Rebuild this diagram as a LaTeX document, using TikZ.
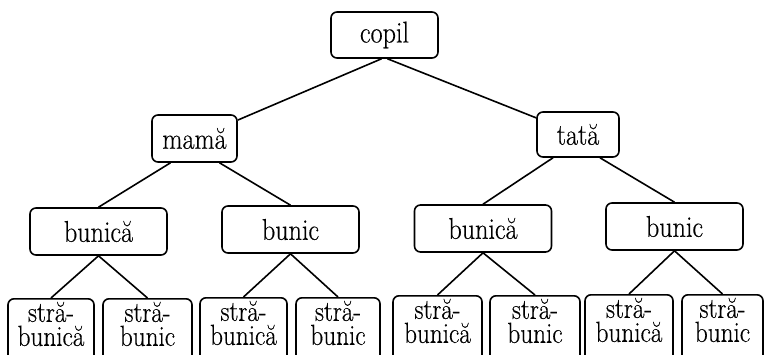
\documentclass[tikz,border=0pt]{standalone}
\usepackage{fontspec}
\setmainfont{Latin Modern Roman}[FakeStretch=0.87,FakeBold=0.4]
\begin{document}
\begin{tikzpicture}[x=1pt,y=-1pt,
  box/.style={draw, line width=1.6pt, rounded corners=6pt, inner sep=0pt,
    font=\fontsize{30}{24}\selectfont, minimum height=47pt},
  leaf/.style={draw, line width=1.6pt, rounded corners=6pt, inner xsep=0pt,
    inner ysep=3pt, align=center, font=\fontsize{29}{24}\selectfont, anchor=north},
  edge/.style={line width=1.6pt}]
\path[use as bounding box, clip] (0,0) rectangle (767,355);
\fill[white] (0,0) rectangle (767,355);
% top levels
\node[box, minimum width=107pt, minimum height=46pt] (copil) at (384.5,35) {copil};
\node[box, minimum width=85pt] (mama) at (194.5,138.5) {mamă};
\node[box, minimum width=82pt, minimum height=45pt] (tata) at (578,134.5) {tată};
% grandparents
\node[box, minimum width=137pt] (bunica1) at (98.5,231.5) {bunică};
\node[box, minimum width=137pt] (bunic1) at (290.5,229.5) {bunic};
\node[box, minimum width=137pt] (bunica2) at (483,228.5) {bunică};
\node[box, minimum width=137pt] (bunic2) at (674.5,226.5) {bunic};
% great-grandparents
\node[leaf, minimum width=86pt] (sb1) at (51,298) {stră-\\bunică\rule[-20pt]{0pt}{1pt}};
\node[leaf, minimum width=89pt] (sb2) at (147.5,298) {stră-\\bunic\rule[-20pt]{0pt}{1pt}};
\node[leaf, minimum width=87pt] (sb3) at (243.5,297) {stră-\\bunică\rule[-20pt]{0pt}{1pt}};
\node[leaf, minimum width=84pt] (sb4) at (338,297) {stră-\\bunic\rule[-20pt]{0pt}{1pt}};
\node[leaf, minimum width=89pt] (sb5) at (437.5,295) {stră-\\bunică\rule[-20pt]{0pt}{1pt}};
\node[leaf, minimum width=90pt] (sb6) at (535,295) {stră-\\bunic\rule[-20pt]{0pt}{1pt}};
\node[leaf, minimum width=88pt] (sb7) at (629,294) {stră-\\bunică\rule[-20pt]{0pt}{1pt}};
\node[leaf, minimum width=81pt] (sb8) at (722.5,294) {stră-\\bunic\rule[-20pt]{0pt}{1pt}};
% connectors
\draw[edge] ([xshift=-3pt]copil.south) -- (mama);
\draw[edge] ([xshift=3pt]copil.south) -- (tata);
\draw[edge] ([xshift=-24pt]mama.south) -- (bunica1.north);
\draw[edge] ([xshift=25pt]mama.south) -- (bunic1.north);
\draw[edge] ([xshift=-25pt]tata.south) -- (bunica2.north);
\draw[edge] ([xshift=22pt]tata.south) -- (bunic2.north);
\draw[edge] (bunica1.south) -- (sb1.north);
\draw[edge] (bunica1.south) -- (sb2.north);
\draw[edge] (bunic1.south) -- (sb3.north);
\draw[edge] (bunic1.south) -- (sb4.north);
\draw[edge] (bunica2.south) -- (sb5.north);
\draw[edge] (bunica2.south) -- (sb6.north);
\draw[edge] (bunic2.south) -- (sb7.north);
\draw[edge] (bunic2.south) -- (sb8.north);
\end{tikzpicture}
\end{document}
